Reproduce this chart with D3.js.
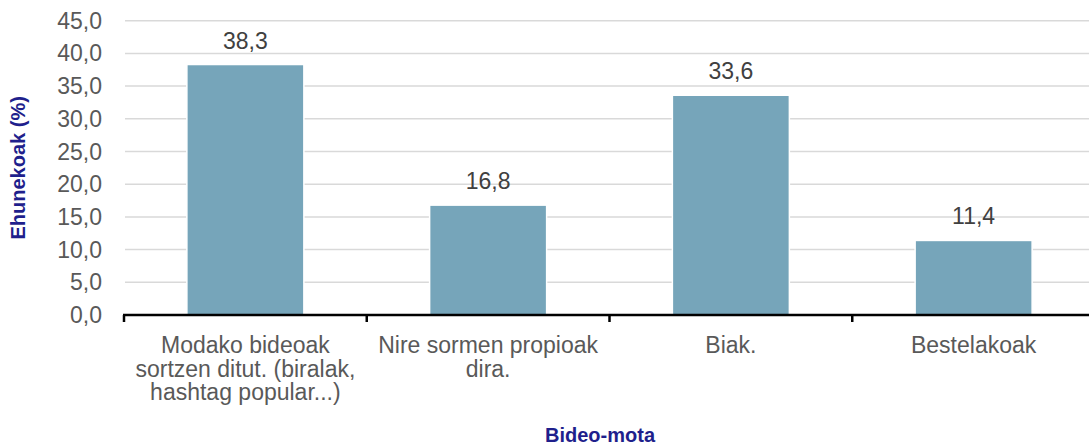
<!DOCTYPE html>
<html>
<head>
<meta charset="utf-8">
<script src="https://cdn.jsdelivr.net/npm/d3@7"></script>
<style>
  html, body { margin: 0; padding: 0; background: #fff; }
  svg { display: block; font-family: "Liberation Sans", Arial, sans-serif; }
</style>
</head>
<body>
<svg id="chart" width="1089" height="446"></svg>
<script>
const categories = [
  ["Modako bideoak", "sortzen ditut. (biralak,", "hashtag popular...)"],
  ["Nire sormen propioak", "dira."],
  ["Biak."],
  ["Bestelakoak"]
];
const values = [38.3, 16.8, 33.6, 11.4];
const yTicks = [0, 5, 10, 15, 20, 25, 30, 35, 40, 45];
const yTitle = "Ehunekoak (%)";
const xTitle = "Bideo-mota";

(function () {
const svg = d3.select("#chart");
const W = 1089;
const pLeft = 124, pRight = 1095, pTop = 20.7, pBottom = 315;
const fmt = v => d3.format(".1f")(v).replace(".", ",");

const x = d3.scaleBand().domain(d3.range(categories.length)).range([pLeft, pRight])
  .paddingInner(0.518).paddingOuter(0.259);
const xb = d3.scaleBand().domain(d3.range(categories.length)).range([pLeft, pRight]);
const y = d3.scaleLinear().domain([0, 45]).range([pBottom, pTop]);

// gridlines
svg.append("g").selectAll("line").data(yTicks.filter(d => d > 0)).join("line")
  .attr("x1", pLeft + 1).attr("x2", W)
  .attr("y1", d => y(d)).attr("y2", d => y(d))
  .attr("stroke", "#d9d9d9").attr("stroke-width", 1.5);

// y tick labels
svg.append("g").selectAll("text").data(yTicks).join("text")
  .attr("x", 102).attr("y", d => y(d)).attr("dy", "0.35em")
  .attr("text-anchor", "end").attr("fill", "#595959")
  .attr("font-size", 23).text(d => fmt(d));

// bars
svg.append("g").selectAll("rect").data(values).join("rect")
  .attr("x", (d, i) => x(i)).attr("width", x.bandwidth())
  .attr("y", d => y(d)).attr("height", d => y(0) - y(d))
  .attr("fill", "#76a5ba").attr("stroke", "#ffffff").attr("stroke-width", 1.5);

// value labels
svg.append("g").selectAll("text").data(values).join("text")
  .attr("x", (d, i) => x(i) + x.bandwidth() / 2).attr("y", d => y(d) - 16)
  .attr("text-anchor", "middle").attr("fill", "#404040")
  .attr("font-size", 23).text(d => fmt(d));

// x axis line
svg.append("line").attr("x1", pLeft - 1).attr("x2", W)
  .attr("y1", pBottom).attr("y2", pBottom)
  .attr("stroke", "#000").attr("stroke-width", 2.5);
// boundary ticks
svg.append("g").selectAll("line").data(d3.range(categories.length + 1)).join("line")
  .attr("x1", i => pLeft + i * xb.step()).attr("x2", i => pLeft + i * xb.step())
  .attr("y1", pBottom).attr("y2", pBottom + 7)
  .attr("stroke", "#000").attr("stroke-width", 2.5);

// category labels
const cat = svg.append("g").selectAll("text").data(categories).join("text")
  .attr("text-anchor", "middle").attr("fill", "#595959").attr("font-size", 23);
cat.each(function(lines, i) {
  d3.select(this).selectAll("tspan").data(lines).join("tspan")
    .attr("x", x(i) + x.bandwidth() / 2)
    .attr("y", (d, j) => 353 + j * 23.5)
    .text(d => d);
});

// axis titles
svg.append("text").attr("transform", `translate(25,${(pTop + pBottom) / 2}) rotate(-90)`)
  .attr("text-anchor", "middle").attr("fill", "#1f1f8c")
  .attr("font-size", 20).attr("font-weight", "bold").text(yTitle);
svg.append("text").attr("x", 600).attr("y", 442)
  .attr("text-anchor", "middle").attr("fill", "#1f1f8c")
  .attr("font-size", 20).attr("font-weight", "bold").text(xTitle);
})();
</script>
</body>
</html>
